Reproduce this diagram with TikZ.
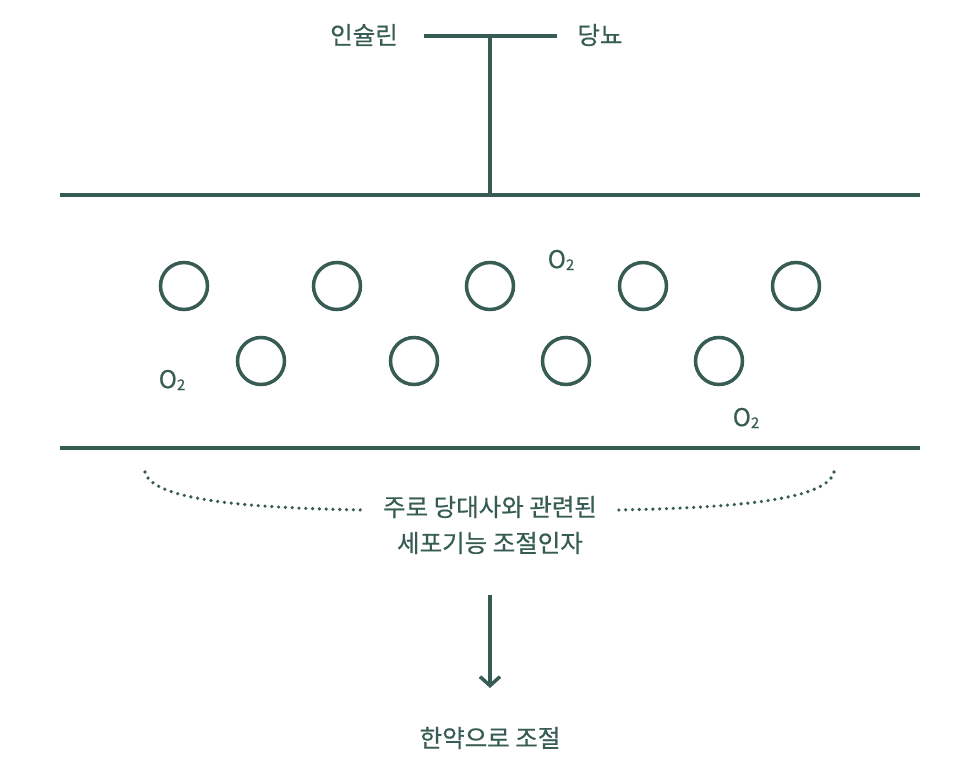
\documentclass[tikz,border=0pt]{standalone}
\usepackage{fontspec}
\setmainfont{Noto Sans CJK KR}[FakeBold=0.5,AutoFakeBold=0.5]
\usetikzlibrary{arrows.meta}
\definecolor{cellgreen}{HTML}{375C53}
\newcommand{\oxy}{O{\fontsize{15}{15}\selectfont\raisebox{-2pt}{2}}}

\tikzset{
  cell/.style={circle, draw, minimum size=47pt, inner sep=0pt},
  label text/.style={inner sep=0pt, text=cellgreen, font=\bfseries\fontsize{24.5}{36}\selectfont},
}

\begin{document}
\begin{tikzpicture}[x=1pt, y=-1pt, line width=3.5pt, color=cellgreen]
  \useasboundingbox (0,0) rectangle (980,768);

  %receptor on top
  \node[label text] (insulin) at (364,35) {인슐린};
  \node[label text] (diabetes) at (600,35) {당뇨};
  \coordinate (barL) at (424,36);
  \coordinate (barR) at (557,36);
  \coordinate (stem) at (490,36);
  \draw (barL) -- (barR);

  %membrane lines
  \coordinate (memTL) at (60,195);
  \coordinate (memTR) at (920,195);
  \coordinate (memTM) at (490,195);
  \coordinate (memBL) at (60,448);
  \coordinate (memBR) at (920,448);
  \draw (memTL) -- (memTR);
  \draw (memBL) -- (memBR);
  \draw (stem) -- (memTM);

  % cells
  \foreach \x [count=\i] in {184,337,490,643,796}
    \node[cell] (upper\i) at (\x,286) {};
  \foreach \x [count=\i] in {261,414,566,719}
    \node[cell] (lower\i) at (\x,361) {};

  % oxygen
  \node[label text] (oxyA) at (561,260) {\oxy};
  \node[label text] (oxyB) at (172,380) {\oxy};
  \node[label text] (oxyC) at (746,418) {\oxy};

  %brace text
  \node[label text, align=center] (factor) at (490,525) {주로 당대사와 관련된\\세포기능 조절인자};
  \coordinate (braceL) at (145,472);
  \coordinate (braceLend) at (363,510);
  \coordinate (braceR) at (834,472);
  \coordinate (braceRend) at (617,510);
  \draw[line width=3.6pt, line cap=round, dash pattern=on 0pt off 6.8pt]
    (braceL) .. controls (152,502) and (260,508) .. (braceLend);
  \draw[line width=3.6pt, line cap=round, dash pattern=on 0pt off 6.8pt]
    (braceR) .. controls (827,502) and (720,508) .. (braceRend);

  %draw arrow
  \node[label text] (result) at (490,738) {한약으로 조절};
  \coordinate (arrowTop) at (490,595);
  \coordinate (arrowEnd) at (490,688);
  \draw[-{Straight Barb[length=9pt,width=20pt,line width=3.5pt]}] (arrowTop) -- (arrowEnd);

\end{tikzpicture}
\end{document}
